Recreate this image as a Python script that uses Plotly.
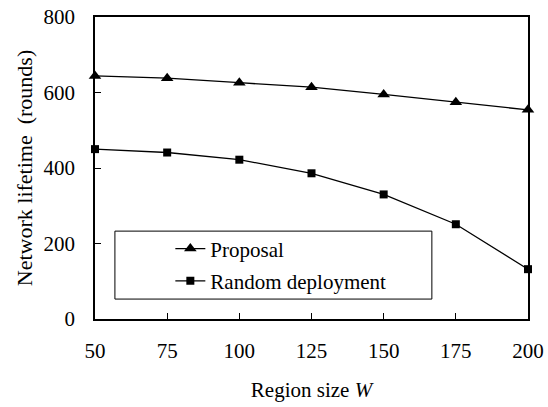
import plotly.graph_objects as go

region_size = [50, 75, 100, 125, 150, 175, 200]
proposal = [644, 638, 626, 614, 595, 574, 554]
random_deploy = [450, 441, 422, 386, 330, 251, 132]

x_ticks = [50, 75, 100, 125, 150, 175, 200]
y_ticks = [0, 200, 400, 600, 800]

FONT = "Liberation Serif"

fig = go.Figure()
fig.add_trace(go.Scatter(
    x=region_size, y=proposal, name="Proposal", mode="lines+markers",
    legendgroup="a",
    line=dict(color="black", width=1.3),
    marker=dict(symbol="triangle-up", size=11, color="black"),
    cliponaxis=False,
))
fig.add_trace(go.Scatter(
    x=region_size, y=random_deploy, name="Random deployment", mode="lines+markers",
    legendgroup="b",
    line=dict(color="black", width=1.3),
    marker=dict(symbol="square", size=8, color="black"),
    cliponaxis=False,
))

fig.add_shape(type="rect", xref="paper", yref="paper",
              x0=0.046, x1=0.778, y0=0.066, y1=0.291,
              line=dict(color="black", width=1), fillcolor="white", layer="below")

fig.update_layout(
    width=548, height=407,
    margin=dict(l=95, r=20, t=17, b=88),
    paper_bgcolor="white", plot_bgcolor="white",
    font=dict(family=FONT, size=21, color="black"),
    showlegend=True,
    legend=dict(x=0.174, y=0.30, xanchor="left", yanchor="top",
                bgcolor="rgba(0,0,0,0)", borderwidth=0,
                font=dict(family=FONT, size=21), tracegroupgap=2),
    xaxis=dict(range=[50, 200], tickvals=x_ticks, ticktext=[str(v) for v in x_ticks],
               ticks="inside", ticklen=6, tickcolor="black", tickwidth=1,
               ticklabelstandoff=12, automargin=False,
               showline=True, linecolor="black", linewidth=1.5, mirror=True,
               showgrid=False, zeroline=False,
               title=dict(text="Region size <i>W</i>", font=dict(family=FONT, size=21), standoff=20)),
    yaxis=dict(range=[0, 800], tickvals=y_ticks, ticktext=[str(v) for v in y_ticks],
               ticks="inside", ticklen=6, tickcolor="black", tickwidth=1,
               ticklabelstandoff=14, automargin=False,
               showline=True, linecolor="black", linewidth=1.5, mirror=True,
               showgrid=False, zeroline=False,
               title=dict(text="Network lifetime  (rounds)", font=dict(family=FONT, size=22), standoff=5)),
)

fig.write_html("out.html", config={"displayModeBar": False},
               post_script="document.body.style.margin='0';")
